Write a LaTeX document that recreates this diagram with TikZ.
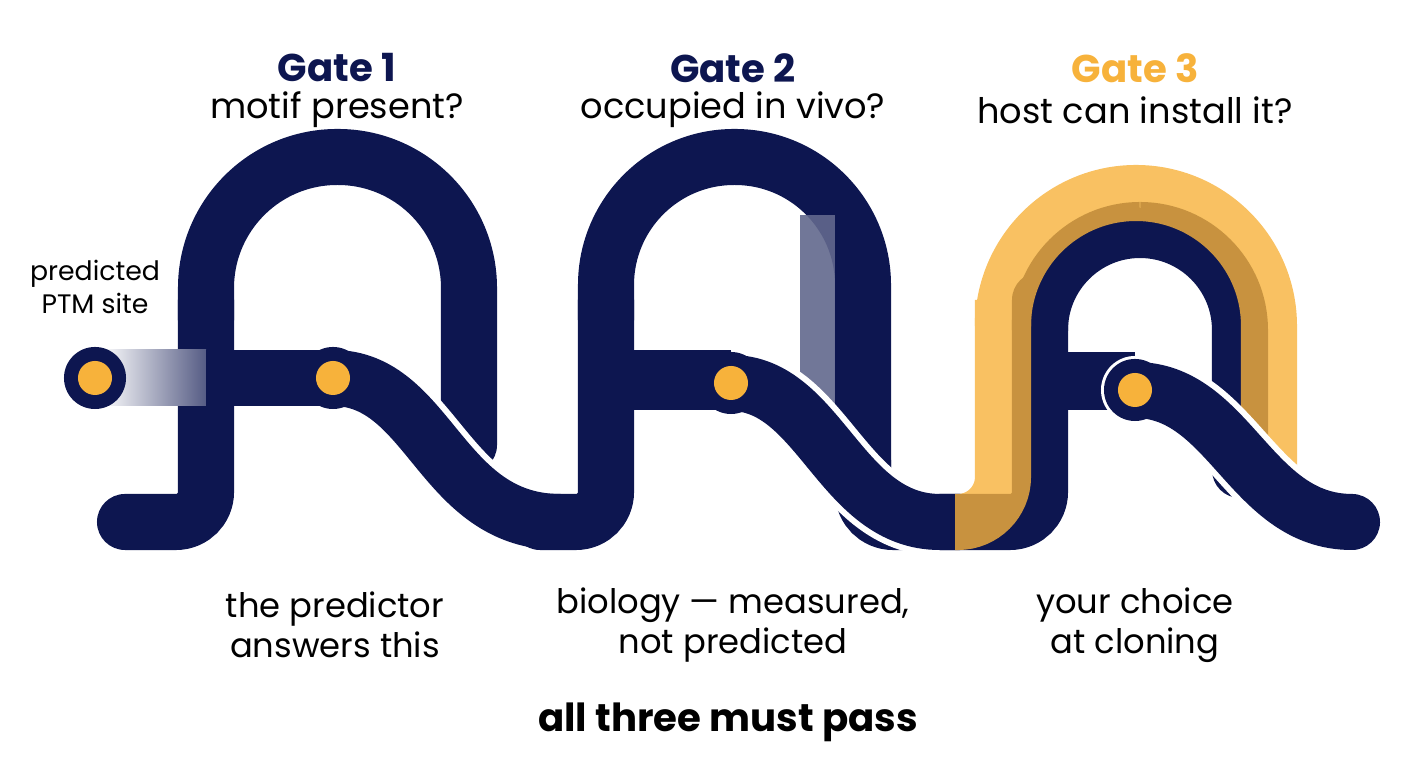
\documentclass[tikz,border=0pt]{standalone}
\usepackage{fontspec}
\setmainfont{Poppins}
\usetikzlibrary{positioning}
\definecolor{navy}{HTML}{0D1650}
\definecolor{gold}{HTML}{F7B23B}
\begin{document}
\begin{tikzpicture}[x=0.01cm,y=-0.01cm,
    band/.style={draw=navy,line width=0.56cm,line cap=round},
    wave/.style={band,double=navy,double distance=0.56cm,draw=white,line width=0.06cm},
    dot/.style={circle,fill=navy,minimum size=0.62cm,inner sep=0pt,path picture={\fill[gold] (path picture bounding box.center) circle (0.17cm);}},
    gate/.style={font=\fontsize{11}{13}\selectfont\bfseries,text=navy},
    ask/.style={font=\fontsize{10}{13}\selectfont,align=center},
    note/.style={font=\fontsize{9.6}{11.5}\selectfont,align=center}]
  \useasboundingbox (0,0) rectangle (1408,768);
  % gate 1
  \draw[band,rounded corners=0.3cm] (125,522) -- (206,522) -- (206,300);
  \draw[band,rounded corners=1.31cm] (206,320) -- (206,157) -- (469,157) -- (469,445);
  \shade[left color=white,right color=navy!70] (100,350) rectangle (206,406);
  \fill[navy] (206,350) rectangle (333,406);
  \draw[wave,line cap=butt] (333,378) .. controls (430,378) and (440,522) .. (560,522);
  % gate 2
  \draw[band,rounded corners=0.3cm] (540,522) -- (606,522) -- (606,300);
  \draw[band,rounded corners=1.28cm] (606,320) -- (606,157) -- (863,157) -- (863,480);
  \draw[band,line cap=butt,rounded corners=0.3cm] (863,460) -- (863,522) -- (960,522);
  \fill[navy!65,opacity=.9] (800,215) rectangle (835,440);
  \fill[navy] (606,350) rectangle (731,410);
  \draw[wave,line cap=butt] (731,383) .. controls (820,383) and (840,522) .. (940,522);
  % gate 3
  \draw[band,rounded corners=0.3cm] (940,522) -- (1040,522) -- (1040,300);
  \draw[band,rounded corners=1.0cm] (1040,320) -- (1040,230) -- (1240,230) -- (1240,470);
  \begin{scope}[transparency group,opacity=.8]
    \draw[band,draw=gold,line cap=butt,rounded corners=0.45cm] (955,522) -- (1003,522) -- (1003,300);
    \draw[band,draw=gold,line cap=butt,rounded corners=1.33cm] (1003,318) -- (1003,193) -- (1269,193) -- (1269,470);
  \end{scope}
  \fill[navy] (1040,352) rectangle (1135,410);
  \draw[wave] (1135,390) .. controls (1230,390) and (1250,522) .. (1352,522);
  % dots
  \node[dot] (site) at (95,378) {};
  \node[dot] (d1) at (333,378) {};
  \node[dot] (d2) at (731,383) {};
  \node[dot] (d3) at (1135,390) {};
  % texts
  \node[font=\fontsize{7.6}{9.4}\selectfont,align=center,above=0.2cm of site] (lab) {predicted\\PTM site};
  \node[gate] (g1) at (337,68) {Gate 1};
  \node[ask] (q1) at (337,110) {motif present?};
  \node[gate] (g2) at (733,68) {Gate 2};
  \node[ask] (q2) at (733,110) {occupied in vivo?};
  \node[gate,text=gold] (g3) at (1135,68) {Gate 3};
  \node[ask] (q3) at (1135,110) {host can install it?};
  \node[note] (a1) at (335,625) {the predictor\\answers this};
  \node[note] (a2) at (733,625) {biology — measured,\\not predicted};
  \node[note] (a3) at (1135,625) {your choice\\at cloning};
  \node[gate,text=black] (all) at (728,722) {all three must pass};
\end{tikzpicture}
\end{document}
